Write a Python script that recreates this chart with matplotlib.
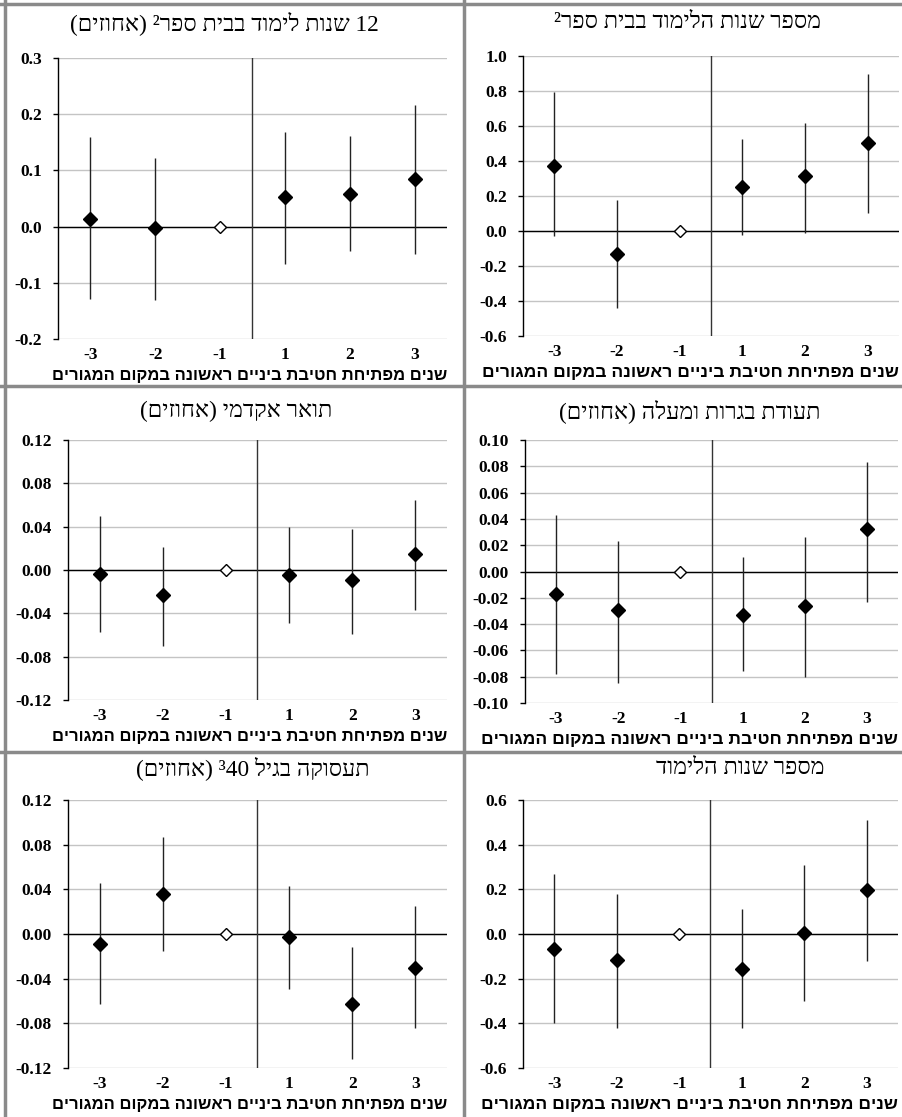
import re
import numpy as np
import matplotlib
matplotlib.use("Agg")
import matplotlib.pyplot as plt
from matplotlib.lines import Line2D

plt.rcParams['axes.unicode_minus'] = False

# x categories: years since first middle school opened in locality
years = ['-3', '-2', '-1', '1', '2', '3']

xlabel_text = 'שנים מפתיחת חטיבת ביניים ראשונה במקום המגורים'

titles = [
    '12 שנות לימוד בבית ספר² (אחוזים)',
    'מספר שנות הלימוד בבית ספר²',
    'תואר אקדמי (אחוזים)',
    'תעודת בגרות ומעלה (אחוזים)',
    'תעסוקה בגיל 40³ (אחוזים)',
    'מספר שנות הלימוד',
]

# point estimates and 95% interval ends (reference year -1 = 0)
est_12y = [0.014, -0.002, 0.0, 0.053, 0.058, 0.084]
lo_12y = [-0.128, -0.130, 0.0, -0.067, -0.044, -0.048]
hi_12y = [0.160, 0.122, 0.0, 0.169, 0.162, 0.217]

est_school = [0.372, -0.129, 0.0, 0.253, 0.313, 0.505]
lo_school = [-0.030, -0.441, 0.0, -0.023, -0.011, 0.104]
hi_school = [0.796, 0.177, 0.0, 0.528, 0.617, 0.900]

est_acad = [-0.004, -0.023, 0.0, -0.005, -0.009, 0.015]
lo_acad = [-0.057, -0.070, 0.0, -0.049, -0.059, -0.037]
hi_acad = [0.050, 0.021, 0.0, 0.040, 0.038, 0.065]

est_bagrut = [-0.017, -0.029, 0.0, -0.033, -0.026, 0.032]
lo_bagrut = [-0.078, -0.085, 0.0, -0.076, -0.080, -0.023]
hi_bagrut = [0.043, 0.023, 0.0, 0.011, 0.026, 0.083]

est_emp = [-0.009, 0.036, 0.0, -0.003, -0.063, -0.030]
lo_emp = [-0.063, -0.015, 0.0, -0.049, -0.112, -0.084]
hi_emp = [0.046, 0.087, 0.0, 0.043, -0.012, 0.025]

est_years = [-0.065, -0.115, 0.0, -0.155, 0.005, 0.195]
lo_years = [-0.400, -0.420, 0.0, -0.420, -0.300, -0.120]
hi_years = [0.270, 0.180, 0.0, 0.110, 0.310, 0.510]

# y axis range, step and decimals per panel
y_min = [-0.2, -0.6, -0.12, -0.10, -0.12, -0.6]
y_max = [0.3, 1.0, 0.12, 0.10, 0.12, 0.6]
y_step = [0.1, 0.2, 0.04, 0.02, 0.04, 0.2]
y_dec = [1, 1, 2, 2, 2, 1]

panels = [
    (est_12y, lo_12y, hi_12y),
    (est_school, lo_school, hi_school),
    (est_acad, lo_acad, hi_acad),
    (est_bagrut, lo_bagrut, hi_bagrut),
    (est_emp, lo_emp, hi_emp),
    (est_years, lo_years, hi_years),
]


def rtl(s):
    # visual order for hebrew text (no bidi in matplotlib)
    r = s[::-1]
    r = r.translate(str.maketrans('()', ')('))
    r = re.sub(r'[0-9]+', lambda m: m.group(0)[::-1], r)
    return r


W, H = 903, 1117
fig = plt.figure(figsize=(W / 100, H / 100), dpi=100)
fig.patch.set_facecolor('white')


def box(l, r, t, b):
    return [l / W, 1 - b / H, (r - l) / W, (b - t) / H]


# pixel boxes of each plot area (left, right, top, bottom)
boxes = [
    (58, 447, 58, 339),
    (523, 899, 56, 336),
    (68, 447, 440, 700),
    (525, 898, 440, 703),
    (68, 447, 800, 1068),
    (523, 898, 800, 1068),
]
title_pos = [(224, 23), (688, 23), (236, 411), (690, 411), (253, 768), (740, 768)]

serif = ['Liberation Serif', 'DejaVu Serif']
x = np.arange(len(years))

for i, (est, lo, hi) in enumerate(panels):
    l, r, t, b = boxes[i]
    ax = fig.add_axes(box(l, r, t, b))
    ticks = np.round(np.arange(y_min[i], y_max[i] + y_step[i] / 2, y_step[i]), 4)
    ax.set_ylim(y_min[i], y_max[i])
    ax.set_xlim(-0.5, len(years) - 0.5)
    ax.set_yticks(ticks)
    ax.set_yticklabels([f'{v:.{y_dec[i]}f}' for v in ticks], family=serif,
                       fontsize=12.5, fontweight='bold')
    ax.set_xticks(x)
    ax.set_xticklabels(years, family=serif, fontsize=12.5, fontweight='bold')
    ax.tick_params(axis='x', length=0, pad=6)
    ax.tick_params(axis='y', length=3.6, width=1, direction='out', pad=8)
    for v in ticks:
        ax.axhline(v, color='#c4c4c4', lw=1, zorder=0)
    for s in ['top', 'right', 'bottom']:
        ax.spines[s].set_visible(False)
    ax.spines['left'].set_color('black')
    ax.spines['left'].set_linewidth(1)
    ax.axhline(0, color='black', lw=1, zorder=1)
    ax.axvline(2.5, color='#333333', lw=1, zorder=1)

    sel = [j for j in range(len(years)) if j != 2]
    ax.vlines(x[sel], np.array(lo)[sel], np.array(hi)[sel], color='#222222', lw=1, zorder=2)
    ax.plot(x[sel], np.array(est)[sel], 'D', color='black', ms=7, zorder=3)
    ax.plot([x[2]], [est[2]], 'D', mfc='white', mec='black', mew=1, ms=6.5, zorder=3)

    # x axis title, right-aligned with the plot area, just under the tick labels
    ax.annotate(rtl(xlabel_text), xy=(1, 0), xycoords='axes fraction',
                xytext=(0, -21), textcoords='offset points', ha='right', va='top',
                family=['Liberation Sans', 'DejaVu Sans'], fontweight='bold',
                fontsize=12 if i % 2 == 0 else 12.6)

    tx, ty = title_pos[i]
    fig.text(tx / W, 1 - ty / H, rtl(titles[i]), ha='center', va='center',
             family=serif, fontsize=16.8)

# gray cell borders
border = '#8a8a8a'
for (x0, y0, x1, y1) in [(5, 0, 5, H), (0, 4, W, 4), (464, 0, 464, H), (0, 386, W, 386), (0, 752, W, 752)]:
    fig.add_artist(Line2D([x0 / W, x1 / W], [1 - y0 / H, 1 - y1 / H], color=border, lw=2.5))

fig.savefig('out.png', dpi=100)
